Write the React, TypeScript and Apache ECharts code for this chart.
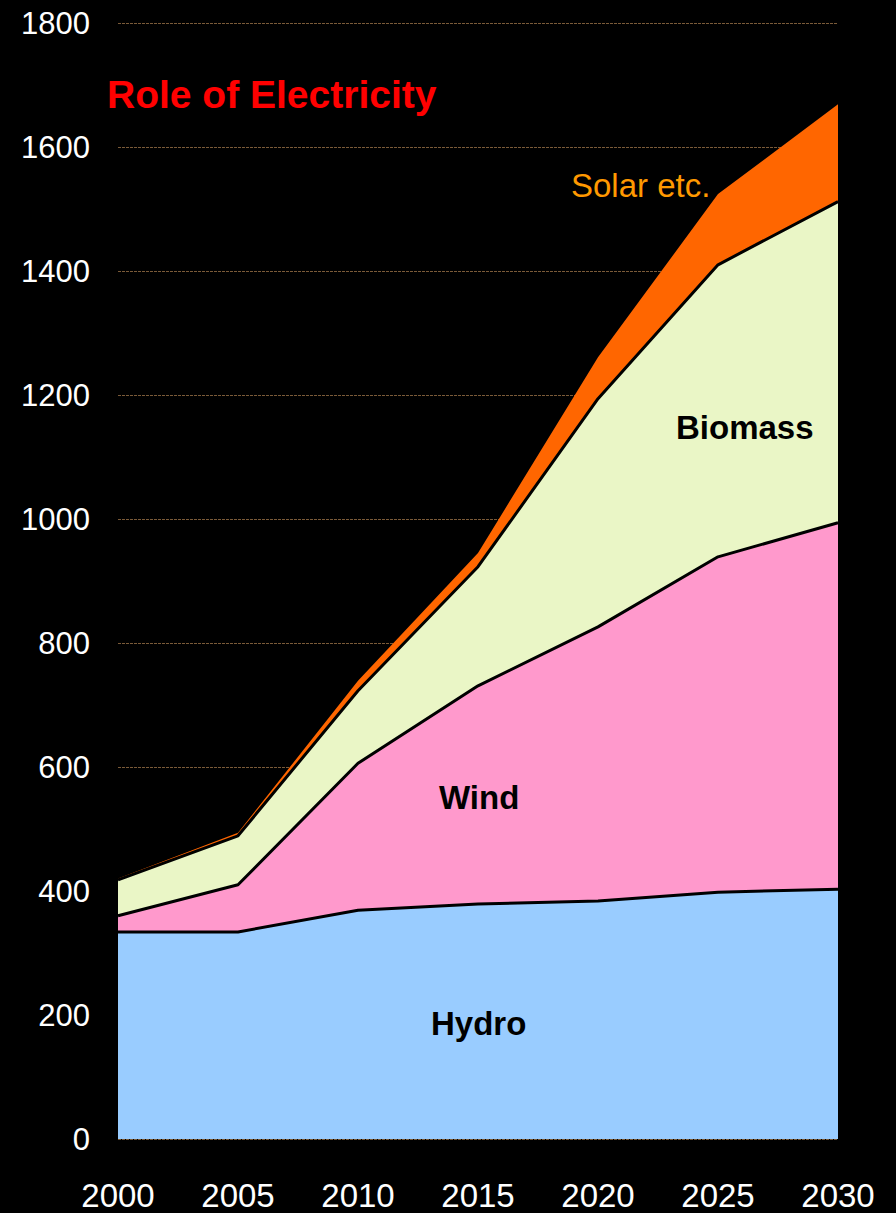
import React, { useEffect, useRef } from "react";
import * as echarts from "echarts";

const years = ["2000", "2005", "2010", "2015", "2020", "2025", "2030"];
const hydro = [334, 334, 369, 379, 384, 398, 403];
const wind = [26, 76, 237, 352, 442, 541, 591];
const biomass = [58, 79, 117, 192, 368, 471, 518];
const solar = [2, 5, 16, 22, 67, 114, 157];
const yTicks = [0, 200, 400, 600, 800, 1000, 1200, 1400, 1600, 1800];

const FONT = "'Liberation Sans', Arial, sans-serif";

export default function App() {
  const ref = useRef<HTMLDivElement>(null);
  useEffect(() => {
    if (!ref.current) return;
    const chart = echarts.init(ref.current, undefined, { renderer: "svg" });
    const mk = (name: string, data: number[], fill: string, line: string, lw: number, z: number) => ({
      name,
      type: "line",
      stack: "total",
      data,
      symbol: "none",
      areaStyle: { color: fill, opacity: 1 },
      lineStyle: { color: line, width: lw },
      z,
    });
    chart.setOption({
      animation: false,
      backgroundColor: "#000000",
      grid: { left: 118, right: 58, top: 23, bottom: 74 },
      xAxis: {
        type: "category",
        data: years,
        boundaryGap: false,
        axisLine: { show: false },
        axisTick: { show: false },
        splitLine: { show: false },
        axisLabel: { color: "#ffffff", fontSize: 33, fontFamily: FONT, margin: 40, interval: 0 },
      },
      yAxis: {
        type: "value",
        min: yTicks[0],
        max: yTicks[yTicks.length - 1],
        interval: 200,
        axisLine: { show: false },
        axisTick: { show: false },
        splitLine: { show: true, lineStyle: { color: "#7a5a38", width: 1, type: [3, 1] } },
        axisLabel: { color: "#ffffff", fontSize: 31, fontFamily: FONT, margin: 28, formatter: (v: number) => String(v) },
      },
      series: [
        mk("Hydro", hydro, "#99ccff", "#000000", 3, 5),
        mk("Wind", wind, "#ff99cc", "#000000", 3, 4),
        mk("Biomass", biomass, "#eaf6c6", "#000000", 3, 3),
        mk("Solar etc.", solar, "#ff6600", "#ff6600", 0, 2),
      ],
      graphic: [
        { type: "text", z: 100, left: 107, top: 75, style: { text: "Role of Electricity", fill: "#ff0000", font: `bold 39px ${FONT}` } },
        { type: "text", z: 100, left: 571, top: 169, style: { text: "Solar etc.", fill: "#ff9900", font: `33px ${FONT}` } },
        { type: "text", z: 100, left: 676, top: 411, style: { text: "Biomass", fill: "#000000", font: `bold 33px ${FONT}` } },
        { type: "text", z: 100, left: 439, top: 781, style: { text: "Wind", fill: "#000000", font: `bold 33px ${FONT}` } },
        { type: "text", z: 100, left: 431, top: 1007, style: { text: "Hydro", fill: "#000000", font: `bold 33px ${FONT}` } },
      ],
    });
    return () => chart.dispose();
  }, []);
  return <div ref={ref} style={{ width: 896, height: 1213, position: "absolute", left: 0, top: 0 }} />;
}
